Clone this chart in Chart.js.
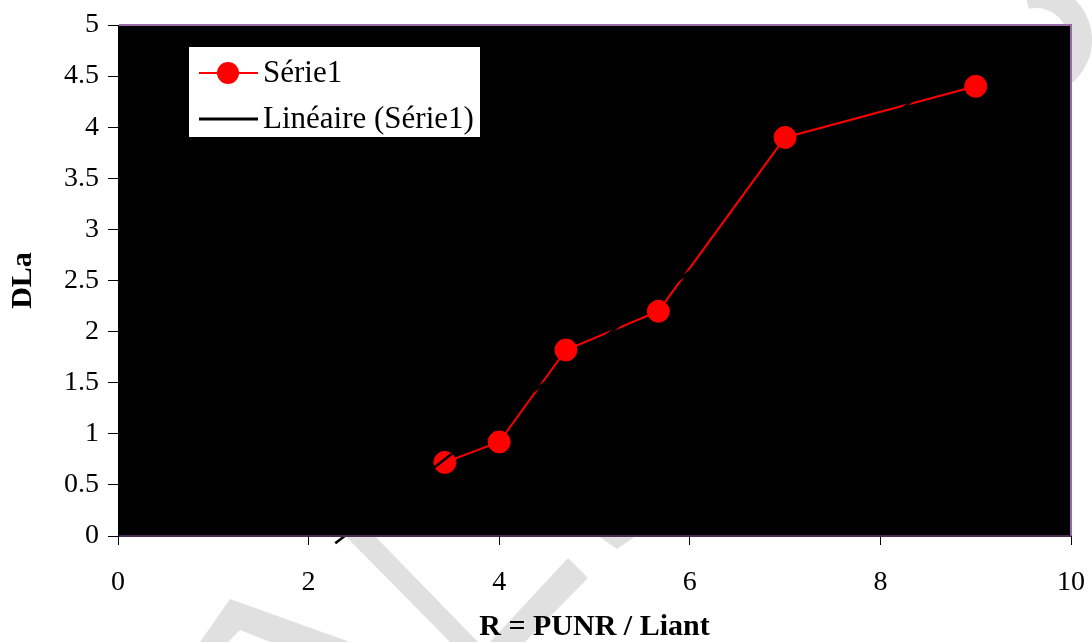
<!DOCTYPE html>
<html>
<head>
<meta charset="utf-8">
<script src="https://cdn.jsdelivr.net/npm/chart.js@4.4.1/dist/chart.umd.min.js"></script>
<style>
  html, body { margin: 0; padding: 0; background: #fff; }
  #wrap { width: 1092px; height: 642px; }
</style>
</head>
<body>
<div id="wrap"><canvas id="dlaChart" width="1092" height="642"></canvas></div>
<script>
// values
const ratioValues = [3.43, 4, 4.7, 5.67, 7, 9];
const dlaValues = [0.72, 0.92, 1.82, 2.2, 3.9, 4.4];
const xTickLabels = ['0', '2', '4', '6', '8', '10'];
const yTickLabels = ['0', '0.5', '1', '1.5', '2', '2.5', '3', '3.5', '4', '4.5', '5'];
const seriesLabel = 'Série1';
const trendLabel = 'Linéaire (Série1)';
const xTitle = 'R = PUNR / Liant';
const yTitle = 'DLa';
const trendFrom = 2.28; // trendline forecast backward to here

// least squares fit for the linear trendline
function linearFit(xs, ys) {
    const n = xs.length;
    const mx = xs.reduce((a, b) => a + b, 0) / n;
    const my = ys.reduce((a, b) => a + b, 0) / n;
    let sxy = 0, sxx = 0;
    for (let i = 0; i < n; i++) {
        sxy += (xs[i] - mx) * (ys[i] - my);
        sxx += (xs[i] - mx) * (xs[i] - mx);
    }
    const slope = sxy / sxx;
    return { slope: slope, intercept: my - slope * mx };
}
const fit = linearFit(ratioValues, dlaValues);
const trendTo = ratioValues[ratioValues.length - 1];
const trendPoints = [trendFrom, trendTo].map(x => ({ x: x, y: fit.slope * x + fit.intercept }));

const serif = "'Liberation Serif', 'Times New Roman', serif";
Chart.defaults.font.family = serif;
Chart.defaults.color = '#000';

// grey watermark behind everything + black plot area
const backdrop = {
    id: 'backdrop',
    beforeDraw(chart) {
        const ctx = chart.ctx;
        const a = chart.chartArea;
        ctx.save();
        ctx.fillStyle = '#e0e0e0';
        const shapes = [
            [[300, 490], [330, 490], [478, 642], [450, 642]],
            [[568, 558], [588, 578], [525, 642], [490, 642]],
            [[230, 599], [350, 642], [270, 642], [240, 630], [228, 642], [200, 642]],
            [[598, 536], [636, 536], [617, 549]]
        ];
        shapes.forEach(pts => {
            ctx.beginPath();
            ctx.moveTo(pts[0][0], pts[0][1]);
            pts.slice(1).forEach(p => ctx.lineTo(p[0], p[1]));
            ctx.closePath();
            ctx.fill();
        });
        ctx.strokeStyle = '#e0e0e0';
        ctx.lineWidth = 24;
        ctx.beginPath();
        ctx.arc(1036, 40, 44, -1.8, 1.3);
        ctx.stroke();

        ctx.fillStyle = '#000';
        ctx.fillRect(a.left, a.top, a.right - a.left, a.bottom - a.top);
        ctx.restore();
    },
    afterDraw(chart) {
        const ctx = chart.ctx;
        const a = chart.chartArea;
        ctx.save();
        // frame edges
        ctx.lineWidth = 2;
        ctx.strokeStyle = '#9a6aa8';
        ctx.beginPath();
        ctx.moveTo(a.left + 1, a.top);
        ctx.lineTo(a.right, a.top);
        ctx.lineTo(a.right, a.bottom);
        ctx.stroke();
        ctx.strokeStyle = '#4a2a52';
        ctx.beginPath();
        ctx.moveTo(a.left + 1, a.bottom);
        ctx.lineTo(a.right, a.bottom);
        ctx.stroke();

        // legend box inside the plot
        ctx.fillStyle = '#fff';
        ctx.fillRect(189, 47, 291, 90);
        ctx.font = '31px ' + serif;
        ctx.textBaseline = 'middle';
        ctx.textAlign = 'left';

        ctx.strokeStyle = '#ff0000';
        ctx.lineWidth = 2;
        ctx.beginPath();
        ctx.moveTo(199, 73);
        ctx.lineTo(258, 73);
        ctx.stroke();
        ctx.fillStyle = '#ff0000';
        ctx.beginPath();
        ctx.arc(228, 73, 11, 0, Math.PI * 2);
        ctx.fill();
        ctx.fillStyle = '#000';
        ctx.fillText(seriesLabel, 263, 74);

        ctx.strokeStyle = '#000';
        ctx.lineWidth = 3;
        ctx.beginPath();
        ctx.moveTo(199, 119);
        ctx.lineTo(258, 119);
        ctx.stroke();
        ctx.fillText(trendLabel, 263, 120);
        ctx.restore();
    }
};

const ctx = document.getElementById('dlaChart').getContext('2d');
const dlaChart = new Chart(ctx, {
    type: 'scatter',
    data: {
        datasets: [{
            label: seriesLabel,
            data: ratioValues.map((x, i) => ({ x: x, y: dlaValues[i] })),
            showLine: true,
            borderColor: '#ff0000',
            borderWidth: 2,
            backgroundColor: '#ff0000',
            pointRadius: 11,
            pointBorderWidth: 1,
            pointBorderColor: '#ff0000',
            order: 1
        }, {
            label: trendLabel,
            data: trendPoints,
            showLine: true,
            borderColor: '#000',
            borderWidth: 2.5,
            pointRadius: 0,
            clip: false,
            order: 0
        }]
    },
    options: {
        responsive: false,
        animation: false,
        layout: { padding: { top: 25, right: 21, left: 0, bottom: 0 } },
        plugins: {
            legend: { display: false },
            tooltip: { enabled: false }
        },
        scales: {
            x: {
                type: 'linear',
                min: 0,
                max: 10,
                afterFit(scale) {
                    scale.height = 106;
                    scale.paddingLeft = 0;
                    scale.paddingRight = 0;
                },
                ticks: {
                    stepSize: 2,
                    padding: 21,
                    font: { size: 28 },
                    callback: (v, i) => xTickLabels[i]
                },
                grid: { drawOnChartArea: false, tickLength: 9, color: '#000' },
                border: { color: '#000' },
                title: {
                    display: true,
                    text: xTitle,
                    font: { size: 30, weight: 'bold', lineHeight: 1 },
                    padding: { top: 0, bottom: 0 }
                }
            },
            y: {
                min: 0,
                max: 5,
                afterFit(scale) {
                    scale.width = 118;
                    scale.paddingTop = 0;
                    scale.paddingBottom = 0;
                },
                ticks: {
                    stepSize: 0.5,
                    padding: 9,
                    font: { size: 28 },
                    callback: (v, i) => yTickLabels[i]
                },
                grid: { drawOnChartArea: false, tickLength: 10, color: '#000' },
                border: { color: '#000' },
                title: {
                    display: true,
                    text: yTitle,
                    font: { size: 30, weight: 'bold', lineHeight: 1 },
                    padding: { top: 8, bottom: 0 }
                }
            }
        }
    },
    plugins: [backdrop]
});
</script>
</body>
</html>
